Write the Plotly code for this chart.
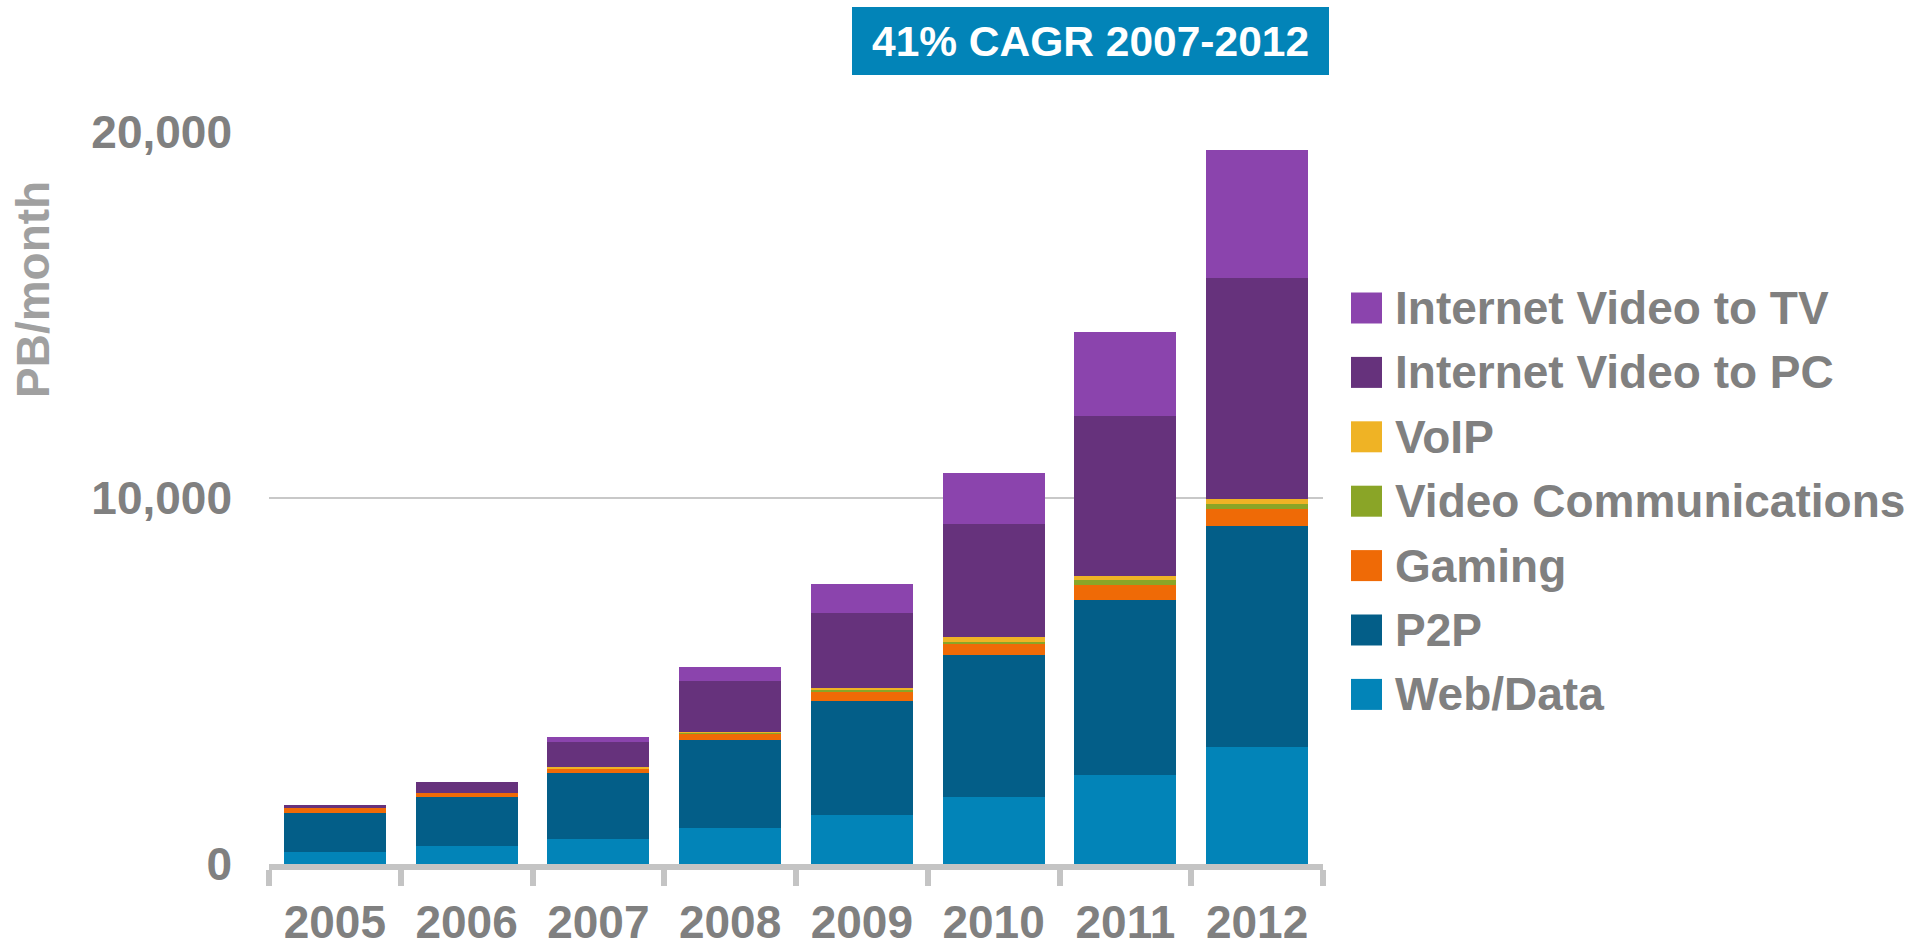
import plotly.graph_objects as go

# ---------------- data ----------------
years = ["2005", "2006", "2007", "2008", "2009", "2010", "2011", "2012"]
web_data = [331, 495, 686, 987, 1342, 1840, 2436, 3201]
p2p = [1066, 1339, 1804, 2405, 3117, 3876, 4784, 6023]
gaming = [137, 110, 110, 164, 246, 301, 410, 465]
video_comm = [0, 0, 10, 45, 63, 55, 137, 155]
voip = [0, 0, 54, 15, 50, 118, 109, 137]
video_pc = [82, 300, 656, 1394, 2050, 3089, 4374, 6040]
video_tv = [0, 0, 137, 381, 793, 1392, 2293, 3500]

series_names = ["Web/Data", "P2P", "Gaming", "Video Communications", "VoIP",
                "Internet Video to PC", "Internet Video to TV"]
series_values = [web_data, p2p, gaming, video_comm, voip, video_pc, video_tv]
series_colors = ["#0284B8", "#035E88", "#EF6A06", "#8AA527", "#EFB325",
                 "#66327C", "#8B44AD"]

y_ticks = [0, 10000, 20000]
badge_text = "41% CAGR 2007-2012"
y_title = "PB/month"

# ---------------- layout geometry (page pixels) ----------------
W, H = 1924, 944
PL, PR, PT, PB = 269, 1323, 132, 864   # plot area edges in page pixels
FONT = "Liberation Sans, Arial, sans-serif"
GREY = "#808080"


def px_x(x):
    return (x - PL) / (PR - PL)


def px_y(y):
    return (PB - y) / (PB - PT)


fig = go.Figure()
for name, vals, col in zip(series_names, series_values, series_colors):
    fig.add_trace(go.Bar(x=years, y=vals, name=name, marker_color=col,
                         marker_line_width=0, showlegend=False))

shapes = []
annotations = []

# manual legend (top item = last series)
leg_first_y = 308
leg_step = 64.4
for i, (name, col) in enumerate(zip(series_names[::-1], series_colors[::-1])):
    cy = leg_first_y + i * leg_step
    shapes.append(dict(type="rect", xref="paper", yref="paper",
                       x0=px_x(1351), x1=px_x(1382),
                       y0=px_y(cy + 15.5), y1=px_y(cy - 15.5),
                       fillcolor=col, line_width=0, layer="above"))
    annotations.append(dict(text="<b>" + name + "</b>", xref="paper", yref="paper",
                            x=px_x(1393), y=px_y(cy), xanchor="left",
                            yanchor="middle", showarrow=False,
                            font=dict(family=FONT, size=46, color=GREY)))

# CAGR badge
shapes.append(dict(type="rect", xref="paper", yref="paper",
                   x0=px_x(852), x1=px_x(1329), y0=px_y(75), y1=px_y(7),
                   fillcolor="#0284B8", line_width=0, layer="above"))
annotations.append(dict(text="<b>" + badge_text + "</b>", xref="paper", yref="paper",
                        x=px_x(1090.5), y=px_y(42), xanchor="center",
                        yanchor="middle", showarrow=False,
                        font=dict(family=FONT, size=42.5, color="white")))

# y-axis title
annotations.append(dict(text="<b>" + y_title + "</b>", xref="paper", yref="paper",
                        x=px_x(33), y=px_y(290), xanchor="center",
                        yanchor="middle", textangle=-90, showarrow=False,
                        font=dict(family=FONT, size=46, color="#A0A0A0")))

fig.update_layout(
    width=W, height=H,
    barmode="stack", bargap=0.225,
    plot_bgcolor="white", paper_bgcolor="white",
    margin=dict(l=PL, r=W - PR, t=PT, b=H - PB, autoexpand=False),
    font=dict(family=FONT, size=46, color=GREY),
    shapes=shapes, annotations=annotations,
    xaxis=dict(
        type="category", showgrid=False, showline=True, linewidth=6,
        linecolor="#C4C4C4", ticks="outside", ticklen=16, tickwidth=6,
        tickcolor="#C4C4C4", tickson="boundaries", ticklabelstandoff=13,
        tickfont=dict(family=FONT, size=46, color=GREY, weight="bold"),
    ),
    yaxis=dict(
        range=[0, 20000], tickvals=y_ticks, tickformat=",d",
        showgrid=True, gridcolor="#C8C8C8", gridwidth=2,
        zeroline=False, showline=False, ticks="",
        ticklabelstandoff=36,
        tickfont=dict(family=FONT, size=46, color=GREY, weight="bold"),
    ),
)

# remove the default page margin so the 1924x944 figure fills the window exactly
fig.write_html("out.html",
               config={"displayModeBar": False},
               post_script="document.body.style.margin='0';"
                           "document.body.style.overflow='hidden';")
